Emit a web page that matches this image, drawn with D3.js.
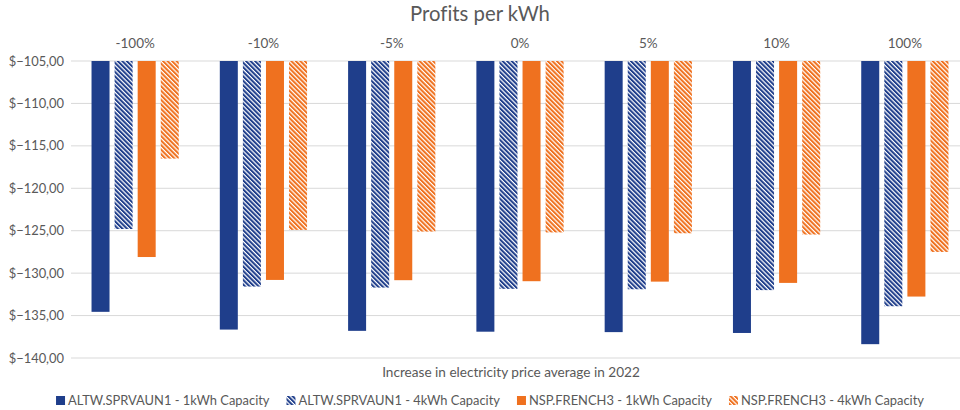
<!DOCTYPE html>
<html>
<head>
<meta charset="utf-8">
<script src="https://cdn.jsdelivr.net/npm/d3@7"></script>
<style>
  body { margin: 0; background: #fff; }
  text { font-family: Lato, "Open Sans", sans-serif; fill: #595959; font-variant-ligatures: none; }
</style>
</head>
<body>
<script>
// Data
const categories = ["-100%", "-10%", "-5%", "0%", "5%", "10%", "100%"];
const seriesNames = ["ALTW.SPRVAUN1 - 1kWh Capacity", "ALTW.SPRVAUN1 - 4kWh Capacity", "NSP.FRENCH3 - 1kWh Capacity", "NSP.FRENCH3 - 4kWh Capacity"];
const altw1 = [-134.56, -136.65, -136.80, -136.90, -136.95, -137.05, -138.37];
const altw4 = [-124.80, -131.58, -131.70, -131.85, -131.90, -132.00, -133.90];
const nsp1 = [-128.10, -130.80, -130.83, -130.95, -131.00, -131.15, -132.76];
const nsp4 = [-116.50, -124.90, -125.10, -125.20, -125.30, -125.45, -127.50];
const yTicks = [-105, -110, -115, -120, -125, -130, -135, -140];

const seriesValues = [altw1, altw4, nsp1, nsp4];

//Settings
var width = 960;
var height = 410;
var blue = "#1F3E8B";
var orange = "#EF711F";

var svg = d3.select("body").append("svg").attr("width", width).attr("height", height);

//Patterns
var defs = svg.append("defs");
function hatch(id, color)
{
    var p = defs.append("pattern").attr("id", id).attr("patternUnits", "userSpaceOnUse")
        .attr("width", 3.2).attr("height", 3.2).attr("patternTransform", "rotate(-45)");
    p.append("rect").attr("width", 3.2).attr("height", 3.2).attr("fill", "#fff");
    p.append("rect").attr("width", 2).attr("height", 3.2).attr("fill", color);
}
hatch("hatchBlue", blue);
hatch("hatchOrange", orange);
var fills = [blue, "url(#hatchBlue)", orange, "url(#hatchOrange)"];

//Scales
var x0 = d3.scaleBand().domain(categories).range([71, 969]).paddingInner(0.32).paddingOuter(0.16);
var x1 = d3.scaleBand().domain(d3.range(seriesNames.length)).range([0, x0.bandwidth()]).paddingInner(0.22);
var y = d3.scaleLinear().domain([-105, -140]).range([61, 358]);

var fmt = v => "$" + d3.format(".2f")(v).replace(".", ",");

//Gridlines
svg.append("g").selectAll("line").data(yTicks).join("line")
    .attr("x1", 71).attr("x2", width).attr("y1", d => y(d)).attr("y2", d => y(d))
    .attr("stroke", "#d9d9d9").attr("stroke-width", 1);

//Y axis
var yAxis = svg.append("g").attr("transform", "translate(71,0)")
    .call(d3.axisLeft(y).tickValues(yTicks).tickFormat(fmt).tickSize(0).tickPadding(7));
yAxis.select(".domain").remove();
yAxis.selectAll("text").attr("font-size", 12.9).attr("font-family", "Lato").attr("fill", "#595959");

//Category labels (top)
var xAxis = svg.append("g").attr("transform", "translate(0,53)")
    .call(d3.axisTop(x0).tickSize(0).tickPadding(5));
xAxis.select(".domain").remove();
xAxis.selectAll("text").attr("font-size", 13.5).attr("font-family", "Lato").attr("fill", "#595959");

//Bars
var groups = svg.append("g").selectAll("g").data(categories).join("g")
    .attr("transform", d => "translate(" + x0(d) + ",0)");
groups.selectAll("rect")
    .data((c, i) => seriesValues.map((s, k) => ({k: k, v: s[i]})))
    .join("rect")
    .attr("x", d => x1(d.k))
    .attr("width", x1.bandwidth())
    .attr("y", y(-105))
    .attr("height", d => y(d.v) - y(-105))
    .attr("fill", d => fills[d.k]);

//Title
svg.append("text").attr("x", 480).attr("y", 21).attr("text-anchor", "middle")
    .attr("font-size", 20.3).text("Profits per kWh");

//X axis title
svg.append("text").attr("x", 511).attr("y", 377).attr("text-anchor", "middle")
    .attr("font-size", 13.6).text("Increase in electricity price average in 2022");

//Legend
var legend = svg.append("g");
var lx = 0;
seriesNames.forEach((name, k) =>
{
    var item = legend.append("g").attr("transform", "translate(" + lx + ",0)");
    item.append("rect").attr("x", 0).attr("y", -9).attr("width", 9).attr("height", 9).attr("fill", fills[k]);
    var t = item.append("text").attr("x", 12).attr("y", 0).attr("font-size", 12.9).attr("fill", "#404040").text(name);
    lx += 12 + t.node().getComputedTextLength() + 17;
});
var legendWidth = lx - 17;
legend.attr("transform", "translate(" + (490 - legendWidth / 2) + ",405)");
</script>
</body>
</html>
